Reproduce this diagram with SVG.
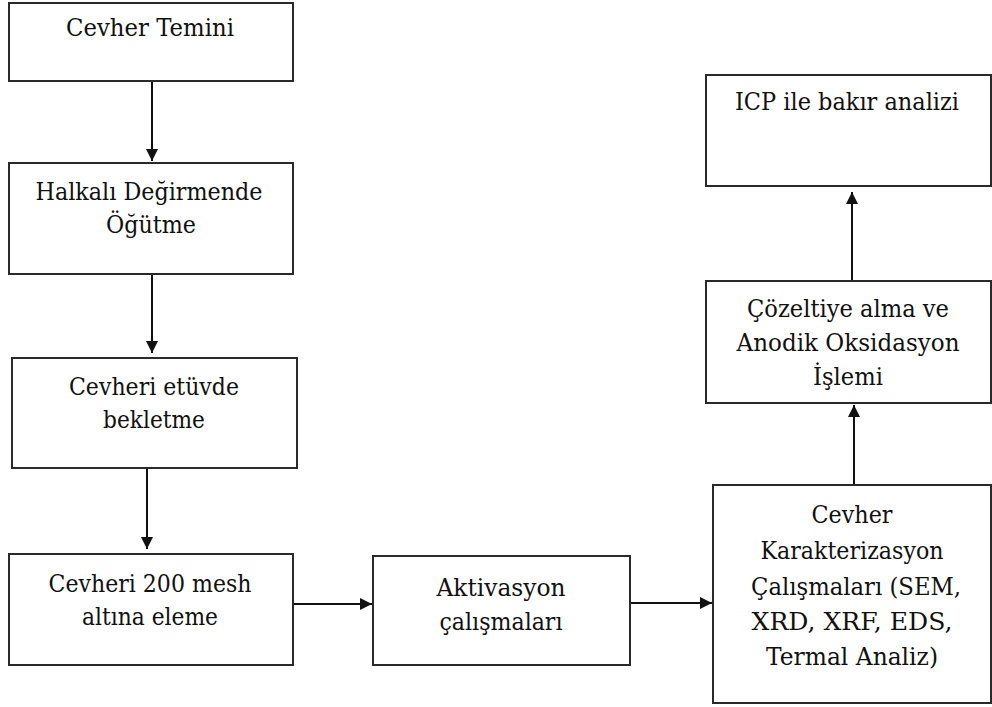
<svg xmlns="http://www.w3.org/2000/svg" width="992" height="707" viewBox="0 0 992 707">
<defs>
<style>
.box{fill:#fff;stroke:#2a2a2a;stroke-width:2}
.lbl{font-family:'DejaVu Serif','Liberation Serif',serif;font-size:25px;fill:#111;text-anchor:middle}
.con{stroke:#111;stroke-width:2;fill:none}
</style>
<marker id="ah" viewBox="0 0 12 12" refX="12" refY="6" markerWidth="12" markerHeight="12" markerUnits="userSpaceOnUse" orient="auto">
<path d="M0,0 L12,6 L0,12 Z" fill="#111"/>
</marker>
</defs>
<rect width="992" height="707" fill="#fff"/>
<g id="connectors">
<line class="con" x1="152" y1="81" x2="152" y2="161" marker-end="url(#ah)"/>
<line class="con" x1="152" y1="274" x2="152" y2="353" marker-end="url(#ah)"/>
<line class="con" x1="147" y1="468" x2="147" y2="549" marker-end="url(#ah)"/>
<line class="con" x1="293" y1="604" x2="372" y2="604" marker-end="url(#ah)"/>
<line class="con" x1="630" y1="603" x2="712" y2="603" marker-end="url(#ah)"/>
<line class="con" x1="854" y1="485" x2="854" y2="405" marker-end="url(#ah)"/>
<line class="con" x1="852" y1="281" x2="852" y2="192" marker-end="url(#ah)"/>
</g>
<g id="n1">
<rect class="box" x="9" y="3" width="284" height="78"/>
<text class="lbl" x="150" y="36" textLength="168" lengthAdjust="spacingAndGlyphs">Cevher Temini</text>
</g>
<g id="n2">
<rect class="box" x="9" y="163" width="284" height="111"/>
<text class="lbl" x="149" y="200" textLength="227" lengthAdjust="spacingAndGlyphs">Halkalı Değirmende</text>
<text class="lbl" x="151" y="233" textLength="90" lengthAdjust="spacingAndGlyphs">Öğütme</text>
</g>
<g id="n3">
<rect class="box" x="12" y="358" width="285" height="110"/>
<text class="lbl" x="154" y="395" textLength="170" lengthAdjust="spacingAndGlyphs">Cevheri etüvde</text>
<text class="lbl" x="154" y="428" textLength="102" lengthAdjust="spacingAndGlyphs">bekletme</text>
</g>
<g id="n4">
<rect class="box" x="9" y="554" width="284" height="111"/>
<text class="lbl" x="150" y="592" textLength="203" lengthAdjust="spacingAndGlyphs">Cevheri 200 mesh</text>
<text class="lbl" x="150" y="625" textLength="136" lengthAdjust="spacingAndGlyphs">altına eleme</text>
</g>
<g id="n5">
<rect class="box" x="373" y="556" width="257" height="109"/>
<text class="lbl" x="501" y="596" textLength="129" lengthAdjust="spacingAndGlyphs">Aktivasyon</text>
<text class="lbl" x="501" y="630" textLength="123" lengthAdjust="spacingAndGlyphs">çalışmaları</text>
</g>
<g id="n6">
<rect class="box" x="713" y="485" width="278" height="218"/>
<text class="lbl" x="852" y="523" textLength="81" lengthAdjust="spacingAndGlyphs">Cevher</text>
<text class="lbl" x="852" y="559" textLength="183" lengthAdjust="spacingAndGlyphs">Karakterizasyon</text>
<text class="lbl" x="856" y="595" textLength="210" lengthAdjust="spacingAndGlyphs">Çalışmaları (SEM,</text>
<text class="lbl" x="852" y="630" textLength="201" lengthAdjust="spacingAndGlyphs">XRD, XRF, EDS,</text>
<text class="lbl" x="852" y="665" textLength="172" lengthAdjust="spacingAndGlyphs">Termal Analiz)</text>
</g>
<g id="n7">
<rect class="box" x="706" y="281" width="285" height="122"/>
<text class="lbl" x="848" y="317" textLength="202" lengthAdjust="spacingAndGlyphs">Çözeltiye alma ve</text>
<text class="lbl" x="848" y="351" textLength="223" lengthAdjust="spacingAndGlyphs">Anodik Oksidasyon</text>
<text class="lbl" x="848" y="385" textLength="70" lengthAdjust="spacingAndGlyphs">İşlemi</text>
</g>
<g id="n8">
<rect class="box" x="706" y="75" width="285" height="111"/>
<text class="lbl" x="847" y="110" textLength="224" lengthAdjust="spacingAndGlyphs">ICP ile bakır analizi</text>
</g>
</svg>
